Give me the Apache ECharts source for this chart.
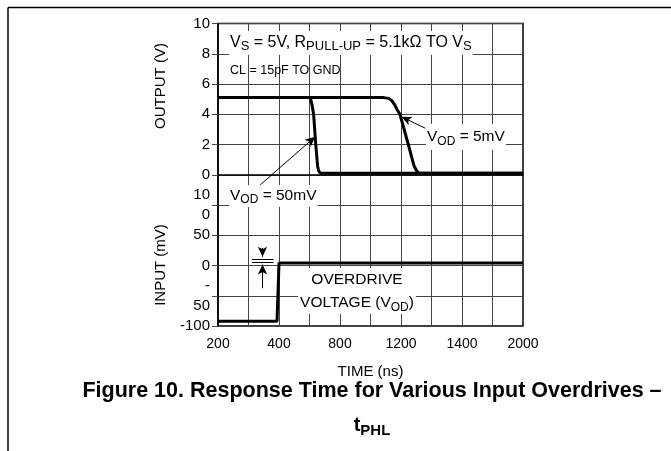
<!DOCTYPE html>
<html>
<head>
<meta charset="utf-8">
<script src="https://cdn.jsdelivr.net/npm/echarts@6/dist/echarts.min.js"></script>
<style>html,body{margin:0;padding:0;background:#fff;}#c{width:671px;height:451px;}</style>
</head>
<body>
<div id="c"></div>
<script>
// ---- data ----
const xTickLabels = ['200', '400', '800', '1200', '1400', '2000'];   // labels at every other grid line
const outputTickLabels = ['0', '2', '4', '6', '8', '10'];
const inputTickLabels = ['-100', '-\n50', '0', '50', '10\n0'];
// output (V) vs time (ns)
const out50mV = [[0, 5.1], [605, 5.1], [612, 5.0], [617, 4.6], [627, 4.0], [641, 2.0], [653, 0.6], [660, 0.25], [672, 0.1], [2000, 0.1]];
const out5mV = [[0, 5.1], [1085, 5.1], [1120, 5.05], [1140, 4.9], [1160, 4.6], [1175, 4.3], [1193, 4.0], [1248, 2.0], [1285, 0.6], [1300, 0.3], [1315, 0.12], [1335, 0.1], [2000, 0.1]];
// input (mV) vs time (ns)
const inputMv = [[0, -92], [387, -92], [400, 4], [2000, 4]];

const FONT = "'Liberation Sans', Arial, Helvetica, sans-serif";
const chart = echarts.init(document.getElementById('c'), null, { renderer: 'canvas' });

const arrowLine = { color: '#000', width: 1, type: 'solid' };

const option = {
  animation: false,
  backgroundColor: '#fff',
  textStyle: { fontFamily: FONT },
  grid: { left: 218, right: 148, top: 23.5, bottom: 125, show: true, borderColor: '#000', borderWidth: 1.5, containLabel: false },
  xAxis: {
    type: 'value', min: 0, max: 2000, interval: 200,
    name: 'TIME (ns)', nameLocation: 'middle', nameGap: 38,
    nameTextStyle: { fontFamily: FONT, fontSize: 15, color: '#000' },
    axisLine: { show: true, lineStyle: { color: '#000', width: 1.5 } },
    axisTick: { show: false },
    splitLine: { show: true, lineStyle: { color: '#444', width: 1 } },
    axisLabel: {
      margin: 11, fontFamily: FONT, fontSize: 14, color: '#000', showMinLabel: true, showMaxLabel: true, hideOverlap: false,
      formatter: v => (v % 400 === 0 ? xTickLabels[v / 400] : '')
    }
  },
  yAxis: [
    {
      // output scale (V); its bottom tick doubles as the input scale's -100 mV
      type: 'value', min: -10, max: 10, interval: 2, position: 'left',
      axisLine: { show: true, lineStyle: { color: '#000', width: 1.5 } },
      axisTick: { show: true, length: 6, lineStyle: { color: '#444' } },
      splitLine: { show: true, lineStyle: { color: '#444', width: 1 } },
      axisLabel: {
        margin: 8, fontFamily: FONT, fontSize: 15, color: '#000', showMinLabel: true, showMaxLabel: true, hideOverlap: false,
        formatter: v => (v >= 0 ? outputTickLabels[v / 2] : (v === -10 ? inputTickLabels[0] : ''))
      }
    },
    {
      type: 'value', min: -100, max: 400, interval: 50, position: 'left', offset: 0,
      axisLine: { show: false }, axisTick: { show: false }, splitLine: { show: false },
      axisLabel: {
        margin: 8, fontFamily: FONT, fontSize: 15, color: '#000', lineHeight: 20, hideOverlap: false,
        padding: [3, 0, 0, 0],
        formatter: v => (v > -100 && v <= 100 ? inputTickLabels[(v + 100) / 50] : '')
      }
    }
  ],
  series: [
    {
      name: 'VOD = 50mV', type: 'line', data: out50mV, yAxisIndex: 0, symbol: 'none',
      lineStyle: { color: '#000', width: 3 }, z: 5,
      markLine: {
        silent: true, symbol: ['none', 'arrow'], symbolSize: [7, 10], label: { show: false },
        lineStyle: arrowLine,
        data: [[{ coord: [277, -0.67] }, { coord: [637, 2.51] }]]
      }
    },
    {
      name: 'VOD = 5mV', type: 'line', data: out5mV, yAxisIndex: 0, symbol: 'none',
      lineStyle: { color: '#000', width: 3 }, z: 5,
      markLine: {
        silent: true, symbol: ['none', 'arrow'], symbolSize: [7, 10], label: { show: false },
        lineStyle: arrowLine,
        data: [[{ coord: [1358, 3.08] }, { coord: [1204, 3.83] }]]
      }
    },
    {
      name: 'INPUT', type: 'line', data: inputMv, yAxisIndex: 1, symbol: 'none',
      lineStyle: { color: '#000', width: 3 }, z: 5,
      markLine: {
        silent: true, symbol: ['none', 'none'], label: { show: false },
        lineStyle: arrowLine,
        data: [
          [{ coord: [222, 10.9] }, { coord: [364, 10.9] }],
          [{ coord: [222, 4.8] }, { coord: [364, 4.8] }],
          [{ coord: [292, 29], symbol: 'none' }, { coord: [292, 14.5], symbol: 'arrow', symbolSize: [7, 10] }],
          [{ coord: [292, -37.5], symbol: 'none' }, { coord: [292, 1.5], symbol: 'arrow', symbolSize: [7, 10] }]
        ]
      }
    }
  ],
  graphic: [
    { type: 'line', shape: { x1: 8, y1: 7.5, x2: 671, y2: 7.5 }, style: { stroke: '#000', lineWidth: 1.5 }, silent: true },
    { type: 'line', shape: { x1: 8, y1: 7.5, x2: 8, y2: 451 }, style: { stroke: '#000', lineWidth: 1.5 }, silent: true },
    {
      type: 'text', x: 229, y: 43, z: 10, silent: true,
      style: {
        text: '{n|V}{s|S}{n| = 5V, R}{s|PULL-UP}{n| = 5.1kΩ TO V}{s|S}',
        align: 'left', verticalAlign: 'middle', backgroundColor: '#fff', padding: [2, 1, 2, 1],
        rich: {
          n: { fontFamily: FONT, fontSize: 16, color: '#000', lineHeight: 20, verticalAlign: 'middle' },
          s: { fontFamily: FONT, fontSize: 13, color: '#000', lineHeight: 20, verticalAlign: 'bottom' }
        }
      }
    },
    {
      type: 'text', x: 230, y: 71, z: 10, silent: true,
      style: { text: 'CL = 15pF TO GND', align: 'left', verticalAlign: 'middle', fontFamily: FONT, fontSize: 12.5, fill: '#000' }
    },
    {
      type: 'text', x: 426, y: 137, z: 10, silent: true,
      style: {
        text: '{n|V}{s|OD}{n| = 5mV}',
        align: 'left', verticalAlign: 'middle', backgroundColor: '#fff', padding: [2, 1, 2, 1],
        rich: {
          n: { fontFamily: FONT, fontSize: 15.5, color: '#000', lineHeight: 22, verticalAlign: 'middle' },
          s: { fontFamily: FONT, fontSize: 12, color: '#000', lineHeight: 22, verticalAlign: 'bottom' }
        }
      }
    },
    {
      type: 'text', x: 229, y: 196, z: 10, silent: true,
      style: {
        text: '{n|V}{s|OD}{n| = 50mV}',
        align: 'left', verticalAlign: 'middle', backgroundColor: '#fff', padding: [1, 1, 1, 1],
        rich: {
          n: { fontFamily: FONT, fontSize: 15.5, color: '#000', lineHeight: 20, verticalAlign: 'middle' },
          s: { fontFamily: FONT, fontSize: 12, color: '#000', lineHeight: 20, verticalAlign: 'bottom' }
        }
      }
    },
    {
      type: 'text', x: 357, y: 291, z: 10, silent: true,
      style: {
        text: '{n|OVERDRIVE}\n{n|VOLTAGE (V}{s|OD}{n|)}',
        align: 'center', verticalAlign: 'middle', backgroundColor: '#fff', padding: [0, 2, 0, 2],
        rich: {
          n: { fontFamily: FONT, fontSize: 15.5, color: '#000', lineHeight: 23, verticalAlign: 'middle', align: 'center' },
          s: { fontFamily: FONT, fontSize: 12, color: '#000', lineHeight: 23, verticalAlign: 'bottom' }
        }
      }
    },
    {
      type: 'text', x: 161, y: 86, rotation: Math.PI / 2, z: 10, silent: true,
      style: { text: 'OUTPUT (V)', align: 'center', verticalAlign: 'middle', fontFamily: FONT, fontSize: 15, fill: '#000' }
    },
    {
      type: 'text', x: 161, y: 265, rotation: Math.PI / 2, z: 10, silent: true,
      style: { text: 'INPUT (mV)', align: 'center', verticalAlign: 'middle', fontFamily: FONT, fontSize: 15, fill: '#000' }
    },
    {
      type: 'text', x: 372, y: 391, z: 10, silent: true,
      style: { text: 'Figure 10. Response Time for Various Input Overdrives –', align: 'center', verticalAlign: 'middle', fontFamily: FONT, fontSize: 21.5, fontWeight: 'bold', fill: '#000' }
    },
    {
      type: 'text', x: 372, y: 425, z: 10, silent: true,
      style: {
        text: '{t|t}{s|PHL}', align: 'center', verticalAlign: 'middle',
        rich: {
          t: { fontFamily: FONT, fontSize: 20, fontWeight: 'bold', color: '#000', lineHeight: 26, verticalAlign: 'middle' },
          s: { fontFamily: FONT, fontSize: 15, fontWeight: 'bold', color: '#000', lineHeight: 26, verticalAlign: 'bottom' }
        }
      }
    }
  ]
};
chart.setOption(option);
</script>
</body>
</html>
